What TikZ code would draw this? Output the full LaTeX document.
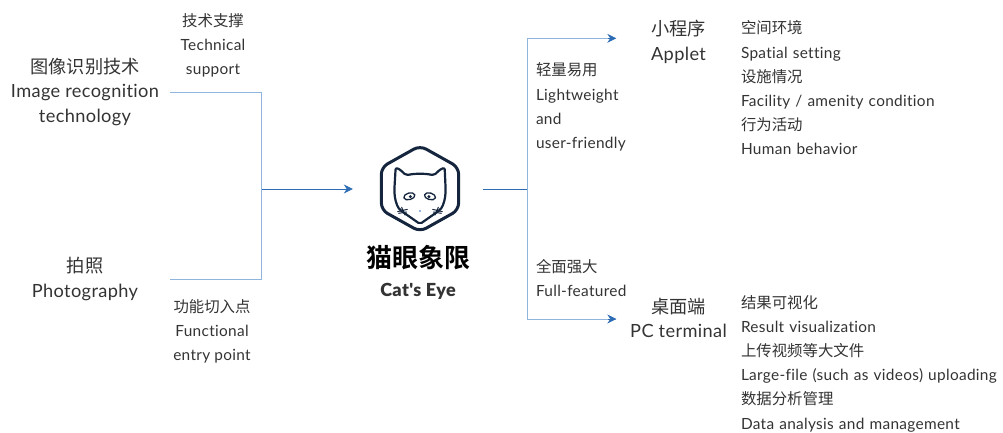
\documentclass[tikz,border=0pt]{standalone}
\usepackage{fontspec}
\setmainfont{Lato}[LetterSpace=2.0,Ligatures=NoCommon]
\newfontfamily\catbold{Lato Black}[LetterSpace=2.0]
\newfontfamily\cjk{Noto Sans CJK SC}[LetterSpace=0]
\newfontfamily\cjkb{Noto Sans CJK SC Bold}
\usetikzlibrary{arrows.meta}
\definecolor{ink}{HTML}{333333}
\definecolor{lightline}{HTML}{8FB5DC}
\definecolor{darkline}{HTML}{2E6DB4}
\definecolor{navy}{HTML}{14253D}
\tikzset{
 big/.style={inner sep=0,align=center,text=ink,font=\fontsize{18.2pt}{24.5pt}\selectfont},
 small/.style={inner sep=0,align=center,text=ink,font=\fontsize{15.4pt}{24pt}\selectfont},
 lefty/.style={inner sep=0,align=left,text=ink,text width=262pt,font=\fontsize{15.4pt}{24.2pt}\selectfont},
 pale/.style={draw=lightline,line width=0.9pt},
 deep/.style={draw=darkline,line width=0.8pt},
 tip/.style={-{Stealth[length=9pt,width=9pt]}},
 logoline/.style={draw=navy,line join=round,line cap=round},
}
\begin{document}
\begin{tikzpicture}[x=1pt,y=-1pt]
\useasboundingbox (0,0) rectangle (1003,432);
\coordinate (hubL) at (261.5,189);
\coordinate (hubR) at (527,189);
\node[big,minimum width=170pt] (img) at (85,92) {{\cjk 图像识别技术}\\Image recognition\\technology};
\node[big,minimum width=170pt] (photo) at (85,279) {{\cjk 拍照}\\Photography};
\node[small] (support) at (213,45) {{\cjk 技术支撑}\\Technical\\support};
\node[small] (entry) at (212,331) {{\cjk 功能切入点}\\Functional\\entry point};
\node[inner sep=0,minimum width=130pt,minimum height=90pt] (logo) at (418,189) {};
\node[inner sep=0,text=black,font=\cjkb\fontsize{26pt}{30pt}\selectfont] (cn) at (418,258) {猫眼象限};
\node[inner sep=0,text=ink,font=\catbold\fontsize{18pt}{20pt}\selectfont] (en) at (418,291) {Cat's Eye};
\node[lefty,text width=100pt] (light) at (586,107) {{\cjk 轻量易用}\\Lightweight\\and\\user-friendly};
\node[lefty,text width=100pt] (full) at (586,278) {{\cjk 全面强大}\\Full-featured};
\node[big,minimum width=124pt] (applet) at (678.5,42) {{\cjk 小程序}\\Applet};
\node[big,minimum width=124pt] (pc) at (678.5,318) {{\cjk 桌面端}\\PC terminal};
\node[lefty] (listA) at (872,88) {{\cjk 空间环境}\\Spatial setting\\{\cjk 设施情况}\\Facility / amenity condition\\{\cjk 行为活动}\\Human behavior};
\node[lefty] (listB) at (872,363.5) {{\cjk 结果可视化}\\Result visualization\\{\cjk 上传视频等大文件}\\Large-file (such as videos) uploading\\{\cjk 数据分析管理}\\Data analysis and management};
% connectors
\draw[pale] ([yshift=-0.5pt]img.east) -| (hubL);
\draw[pale] ([yshift=-0.5pt]photo.east) -| (hubL);
\draw[deep,tip] (hubL) -- (logo.west);
\draw[deep] (logo.east) -- (hubR);
\draw[pale] (hubR) |- ([yshift=3.7pt]applet.west);
\draw[pale] (hubR) |- ([yshift=-1pt]pc.west);
\draw[deep,tip] ([xshift=-8pt,yshift=3.7pt]applet.west) -- ([yshift=3.7pt]applet.west);
\draw[deep,tip] ([xshift=-8pt,yshift=-1pt]pc.west) -- ([yshift=-1pt]pc.west);
% logo
\begin{scope}[shift={(350,130)},x=0.3333pt,y=-0.3333pt]
\draw[logoline,line width=3pt,rounded corners=7pt] (210,47) -- (326,112) -- (326,240) -- (210,305) -- (94,240) -- (94,112) -- cycle;
\draw[logoline,line width=2.2pt,rounded corners=2pt] (137,113) .. controls (150,118) and (160,128) .. (168,136) .. controls (195,130) and (225,130) .. (252,136) .. controls (260,128) and (270,118) .. (284,113) -- (287,180) .. controls (286,205) and (281,225) .. (270,240) -- (210,282) -- (150,240) .. controls (139,225) and (134,205) .. (133,180) -- cycle;
\draw[logoline,line width=1.3pt,rotate around={15:(178,199)}] (178,199) ellipse [x radius=17,y radius=10];
\draw[logoline,line width=1.3pt,rotate around={-15:(240,199)}] (240,199) ellipse [x radius=17,y radius=10];
\fill[navy] (181,200) circle (5);
\fill[navy] (237,200) circle (5);
\fill[darkline] (210,243) circle (2.5);
\draw[logoline,line width=1pt] (143,245) -- (172,238) (146,250) -- (170,246) (155,232) -- (165,255) (277,245) -- (248,238) (274,250) -- (250,246) (265,232) -- (255,255);
\end{scope}
\end{tikzpicture}
\end{document}
